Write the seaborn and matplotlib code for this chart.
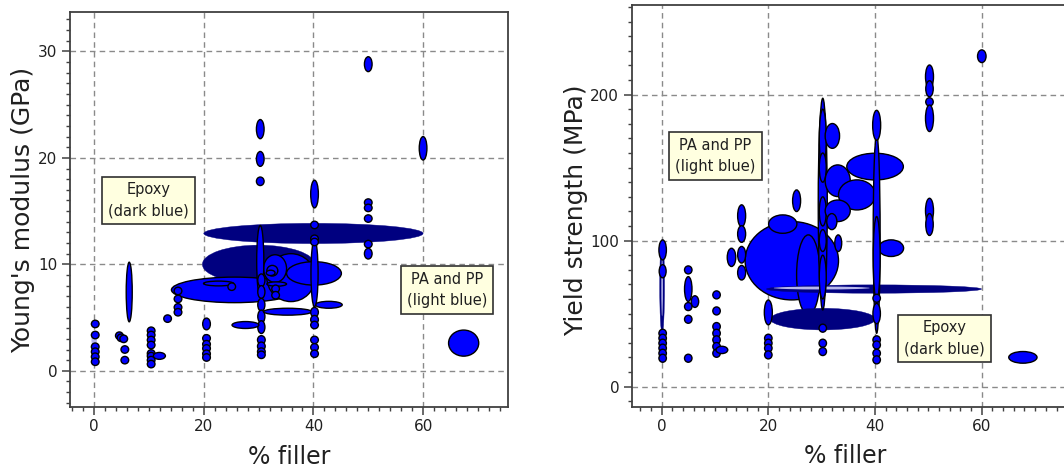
import matplotlib
matplotlib.use("Agg")
import matplotlib.pyplot as plt
from matplotlib.patches import Ellipse
import seaborn as sns

# ---- Young's modulus panel: centre x, centre y, width (% filler), height (GPa), kind
ym_x = [40.0, 30.0, 0.0,
        25.6, 35.9, 40.1, 33.0, 32.5, 32.2, 22.7, 25.1, 33.3, 33.1, 33.1,
        30.3, 30.5, 30.5, 30.5, 30.5, 30.5, 30.5, 30.5, 30.5, 30.5,
        35.3, 27.6, 42.8,
        40.2, 40.2, 40.2, 40.2, 40.2, 40.2, 40.2, 40.2, 40.2, 40.2, 40.2,
        30.3, 30.3, 30.3,
        50.0, 50.0, 50.0, 50.0, 50.0, 50.0, 60.0, 67.4,
        0.2, 0.2, 0.2, 0.2, 0.2, 0.2,
        4.6, 4.9, 5.4, 5.6, 5.6, 6.4,
        10.4, 10.4, 10.4, 10.4, 10.4, 10.4, 10.4, 10.4, 11.9,
        13.4, 15.3, 15.3, 15.3, 15.3,
        20.5, 20.5, 20.5, 20.5, 20.5, 20.5]
ym_y = [12.9, 10.0, 2.95,
        7.6, 8.75, 9.15, 9.6, 9.4, 9.2, 8.2, 7.9, 8.15, 7.7, 7.1,
        10.3, 8.5, 7.4, 6.2, 5.1, 4.1, 2.9, 2.3, 1.8, 1.5,
        5.55, 4.3, 6.2,
        9.15, 16.6, 13.7, 12.4, 12.1, 5.5, 4.8, 4.3, 2.9, 2.2, 1.6,
        22.7, 19.9, 17.8,
        28.8, 15.8, 15.3, 14.3, 11.9, 11.0, 20.9, 2.6,
        4.4, 3.36, 2.26, 1.79, 1.32, 0.85,
        3.3, 3.1, 3.0, 2.0, 1.0, 7.4,
        3.76, 3.36, 2.89, 2.42, 1.63, 1.38, 1.0, 0.63, 1.4,
        4.9, 7.5, 6.75, 5.96, 5.5,
        4.4, 3.05, 2.5, 2.1, 1.6, 1.25]
ym_w = [40.0, 20.5, 1.0,
        23.0, 8.8, 10.0, 4.2, 2.0, 1.6, 5.5, 1.4, 3.6, 1.4, 1.4,
        1.3, 1.3, 1.3, 1.3, 1.3, 1.3, 1.4, 1.4, 1.4, 1.4,
        8.8, 4.9, 4.9,
        1.3, 1.4, 1.4, 1.4, 1.4, 1.4, 1.4, 1.4, 1.4, 1.4, 1.4,
        1.4, 1.4, 1.4,
        1.4, 1.4, 1.4, 1.4, 1.4, 1.4, 1.4, 5.5,
        1.4, 1.4, 1.4, 1.4, 1.4, 1.4,
        1.4, 1.4, 1.4, 1.4, 1.4, 1.1,
        1.4, 1.4, 1.4, 1.4, 1.4, 1.4, 1.4, 1.4, 2.2,
        1.4, 1.4, 1.4, 1.4, 1.4,
        1.4, 1.4, 1.4, 1.4, 1.4, 1.4]
ym_h = [1.9, 3.6, 1.5,
        2.4, 4.5, 2.2, 2.6, 1.0, 0.5, 0.45, 0.7, 0.4, 0.7, 0.7,
        6.7, 1.2, 1.2, 1.2, 1.2, 1.2, 0.8, 0.8, 0.7, 0.7,
        0.65, 0.65, 0.65,
        6.3, 2.6, 0.7, 0.7, 0.7, 0.9, 0.8, 0.7, 0.7, 0.7, 0.7,
        1.8, 1.4, 0.8,
        1.4, 0.7, 0.7, 0.7, 0.7, 1.0, 2.2, 2.45,
        0.7, 0.7, 0.7, 0.7, 0.7, 0.7,
        0.7, 0.7, 0.7, 0.7, 0.7, 5.6,
        0.7, 0.7, 0.7, 0.7, 0.7, 0.7, 0.7, 0.7, 0.65,
        0.7, 0.7, 0.7, 0.7, 0.7,
        1.1, 0.7, 0.7, 0.7, 0.7, 0.7]
ym_kind = ["dark", "dark", "pale"] + ["light"] * (len(ym_x) - 3)

# ---- Yield strength panel: centre x, centre y, width (% filler), height (MPa), kind
ys_x = [24.4, 22.7, 27.5, 30.2, 0.1, 0.1, 30.0, 39.8, 30.0,
        30.2, 30.2, 30.2, 30.2, 30.2, 30.2, 30.2, 30.2, 30.2,
        32.0, 33.0, 36.6, 33.0, 31.9, 40.0, 33.1, 43.0,
        40.3, 40.3, 40.3, 40.3, 40.3, 40.3, 40.3, 40.3, 40.3,
        50.2, 50.2, 50.2, 50.2, 50.2, 50.2, 60.0, 67.7,
        0.2, 0.2, 0.2, 0.2, 0.2, 0.2, 0.2, 0.2,
        5.0, 5.0, 5.0, 5.0, 5.0, 6.25,
        10.3, 10.3, 10.3, 10.3, 10.3, 10.3, 10.3, 11.3,
        15.0, 15.0, 15.0, 15.0, 13.1, 25.3,
        20.0, 20.0, 20.0, 20.0, 20.0]
ys_y = [86.2, 111.3, 76.5, 46.2, 68.5, 68.0, 67.5, 66.8, 67.5,
        125.0, 170.0, 150.0, 120.0, 100.0, 75.0, 40.0, 29.7, 24.0,
        171.7, 141.0, 131.3, 120.4, 113.0, 150.7, 98.2, 94.8,
        104.5, 179.0, 88.0, 60.5, 50.0, 32.0, 28.5, 22.8, 18.3,
        212.3, 204.0, 195.0, 183.8, 120.5, 111.0, 226.3, 20.0,
        93.6, 79.0, 36.5, 33.1, 29.7, 26.3, 22.8, 19.4,
        79.9, 66.8, 54.8, 46.1, 19.4, 58.2,
        62.8, 51.8, 41.1, 36.5, 32.0, 27.4, 22.8, 25.1,
        117.0, 104.5, 90.3, 78.0, 88.5, 127.3,
        50.8, 33.1, 29.7, 26.3, 21.7]
ys_w = [17.5, 5.3, 4.4, 19.7, 0.9, 0.3, 1.2, 40.3, 18.0,
        1.7, 1.3, 1.3, 1.3, 1.3, 1.3, 1.4, 1.4, 1.4,
        2.7, 4.7, 6.9, 4.7, 1.9, 10.6, 1.3, 4.7,
        1.3, 1.5, 1.3, 1.4, 1.4, 1.4, 1.4, 1.4, 1.4,
        1.5, 1.4, 1.4, 1.5, 1.5, 1.4, 1.6, 5.3,
        1.4, 1.3, 1.4, 1.4, 1.4, 1.4, 1.4, 1.4,
        1.4, 1.4, 1.4, 1.4, 1.4, 1.4,
        1.4, 1.4, 1.4, 1.4, 1.4, 1.4, 1.4, 2.2,
        1.5, 1.5, 1.5, 1.5, 1.6, 1.5,
        1.5, 1.4, 1.4, 1.4, 1.4]
ys_h = [53.7, 12.6, 54.8, 14.8, 64.0, 40.0, 2.0, 5.7, 2.0,
        145.0, 40.0, 20.0, 20.0, 15.0, 30.0, 5.5, 5.5, 5.5,
        17.0, 21.7, 20.6, 14.8, 11.0, 18.3, 11.4, 11.4,
        136.0, 20.5, 57.0, 5.5, 14.0, 5.5, 5.5, 5.5, 5.5,
        16.0, 11.0, 5.7, 18.2, 17.0, 15.0, 8.7, 8.0,
        13.7, 9.0, 5.5, 5.5, 5.5, 5.5, 5.5, 5.5,
        5.5, 17.0, 5.5, 5.5, 5.5, 8.0,
        5.5, 5.5, 5.5, 5.5, 5.5, 5.5, 5.5, 5.0,
        15.0, 11.4, 11.4, 10.0, 12.5, 14.8,
        17.0, 5.5, 5.5, 5.5, 5.5]
ys_kind = (["light", "light", "light", "dark", "dark", "pale", "light", "dark", "pale"]
           + ["light"] * (len(ys_x) - 9))

# ---- label boxes
ym_notes = ["Epoxy\n(dark blue)", "PA and PP\n(light blue)"]
ym_note_x = [9.9, 64.4]
ym_note_y = [16.0, 7.6]
ys_notes = ["PA and PP\n(light blue)", "Epoxy\n(dark blue)"]
ys_note_x = [10.1, 53.0]
ys_note_y = [158.0, 33.0]

STYLE = {
    "light": dict(facecolor="#0000ff", edgecolor="black", linewidth=1.0),
    "dark": dict(facecolor="#000080", edgecolor="#000080", linewidth=0.3),
    "pale": dict(facecolor="#b8b8ec", edgecolor="none", linewidth=0),
}

sns.set_theme(style="ticks")
plt.rcParams["font.family"] = ["DejaVu Sans"]

fig = plt.figure(figsize=(10.64, 4.71), dpi=100)
ax1 = fig.add_axes([0.0658, 0.1359, 0.4117, 0.8386])
ax2 = fig.add_axes([0.5937, 0.1359, 0.4093, 0.8535])


def draw_panel(ax, xs, ys, ws, hs, kinds, notes, nx, ny, xlim, ylim, ymajor, yminor, ylabel):
    for x, y, w, h, k in zip(xs, ys, ws, hs, kinds):
        ax.add_patch(Ellipse((x, y), w, h, zorder=3, **STYLE[k]))
    for t, x, y in zip(notes, nx, ny):
        ax.text(x, y, t, ha="center", va="center", fontsize=10.5, color="#202020", zorder=5,
                linespacing=1.5,
                bbox=dict(boxstyle="square,pad=0.4", facecolor="#ffffe0", edgecolor="#303030", lw=1.2))
    ax.set_xlim(*xlim)
    ax.set_ylim(*ylim)
    ax.set_xticks([0, 20, 40, 60])
    ax.set_xticks(range(-4, 76, 2), minor=True)
    ax.set_yticks(ymajor)
    ax.set_yticks(yminor, minor=True)
    ax.grid(True, which="major", linestyle=(0, (4, 3)), color="#8a8a8a", linewidth=1.0, zorder=0)
    ax.set_axisbelow(True)
    for s in ax.spines.values():
        s.set_color("#404040")
        s.set_linewidth(1.3)
    ax.tick_params(which="major", direction="out", length=6, width=1.1, color="#404040",
                   labelsize=11, labelcolor="#202020", pad=3)
    ax.tick_params(which="minor", direction="out", length=3, width=1.0, color="#404040")
    ax.set_xlabel("% filler", fontsize=17, color="#202020")
    ax.set_ylabel(ylabel, fontsize=18, color="#202020")


draw_panel(ax1, ym_x, ym_y, ym_w, ym_h, ym_kind, ym_notes, ym_note_x, ym_note_y,
           (-4.4, 75.5), (-3.4, 33.7), [0, 10, 20, 30], range(-3, 34, 1),
           "Young's modulus (GPa)")
draw_panel(ax2, ys_x, ys_y, ys_w, ys_h, ys_kind, ys_notes, ys_note_x, ys_note_y,
           (-5.6, 76.0), (-14.0, 261.4), [0, 100, 200], range(-10, 261, 10),
           "Yield strength (MPa)")

ax1.yaxis.set_label_coords(-0.08, 0.5)
ax1.xaxis.set_label_coords(0.50, -0.095)
ax2.yaxis.set_label_coords(-0.1, 0.49)
ax2.xaxis.set_label_coords(0.49, -0.092)

fig.savefig("out.png", dpi=100)
